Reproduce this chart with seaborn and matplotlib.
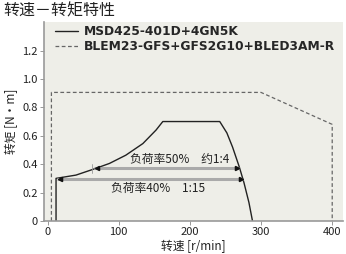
import matplotlib
matplotlib.use("Agg")
import matplotlib.pyplot as plt
import seaborn as sns
import pandas as pd
from matplotlib.lines import Line2D

# ---- data ----
solid_label = "MSD425-401D+4GN5K"
solid_x = [12, 12, 40, 63.6, 87, 110, 134, 152.5, 162, 242, 252, 260, 269.5, 276, 283, 288]
solid_y = [0, 0.30, 0.323, 0.363, 0.405, 0.463, 0.545, 0.64, 0.70, 0.70, 0.62, 0.52, 0.38, 0.27, 0.13, 0]

dashed_label = "BLEM23-GFS+GFS2G10+BLED3AM-R"
dashed_x = [5.5, 5.5, 300, 400, 400]
dashed_y = [0, 0.905, 0.905, 0.68, 0]

arrow50 = [66, 269.5, 0.37]
arrow40 = [14, 275, 0.295]
text50 = "负荷率50%　约1:4"
text40 = "负荷率40%　1:15"

x_ticks = [0, 100, 200, 300, 400]
y_ticks = [0, 0.2, 0.4, 0.6, 0.8, 1.0, 1.2]
y_ticklabels = ["0", "0.2", "0.4", "0.6", "0.8", "1.0", "1.2"]

title = "转速－转矩特性"
xlabel = "转速 [r/min]"
ylabel = "转矩 [N・m]"

sns.set_theme(style="ticks")
plt.rcParams["font.family"] = ["Noto Sans CJK SC", "DejaVu Sans"]

fig = plt.figure(figsize=(3.46, 2.54), dpi=100)
ax = fig.add_axes([0.127, 0.13, 0.864, 0.783])
ax.set_facecolor("#eeeee8")

df_s = pd.DataFrame({"x": solid_x, "y": solid_y})
df_d = pd.DataFrame({"x": dashed_x, "y": dashed_y})
sns.lineplot(data=df_s, x="x", y="y", sort=False, estimator=None, ax=ax,
             color="#222222", lw=1.0)
sns.lineplot(data=df_d, x="x", y="y", sort=False, estimator=None, ax=ax,
             color="#666666", lw=0.9, linestyle=(0, (3, 2)))

for (x0, x1, yy) in (arrow50, arrow40):
    ax.plot([x0, x1], [yy, yy], color="#aaaaaa", lw=2.2, solid_capstyle="butt", zorder=3)
    ax.plot([x0 + 3], [yy], marker="<", color="#111111", ms=3, zorder=4)
    ax.plot([x1 - 3], [yy], marker=">", color="#111111", ms=3, zorder=4)
ax.plot([arrow50[0] - 3] * 2, [arrow50[2] - 0.03, arrow50[2] + 0.03], color="#999999", lw=0.6)

ax.text(185, 0.43, text50, fontsize=8.5, ha="center", va="center", color="#222222")
ax.text(155, 0.23, text40, fontsize=8.5, ha="center", va="center", color="#222222")

ax.set_xlim(-5, 415)
ax.set_ylim(0, 1.4)
ax.set_xticks(x_ticks)
ax.set_yticks(y_ticks)
ax.set_yticklabels(y_ticklabels)
ax.tick_params(labelsize=8, length=3, width=0.6, colors="#888888", labelcolor="#222222", pad=1.5)
for s in ("top", "right"):
    ax.spines[s].set_visible(False)
for s in ("left", "bottom"):
    ax.spines[s].set_color("#999999")
    ax.spines[s].set_linewidth(1.2)

ax.set_xlabel(xlabel, fontsize=8.5, labelpad=2, color="#222222")
ax.set_ylabel(ylabel, fontsize=8.5, labelpad=3, color="#222222")
fig.text(0.01, 0.955, title, fontsize=11.5, ha="left", va="center", color="#222222")

handles = [Line2D([], [], color="#222222", lw=1.0),
           Line2D([], [], color="#666666", lw=0.9, linestyle=(0, (3, 2)))]
leg = ax.legend(handles, [solid_label, dashed_label], loc="upper left",
                bbox_to_anchor=(0.0, 1.04), frameon=False, handlelength=1.9,
                handletextpad=0.5, labelspacing=0.15,
                prop={"family": ["DejaVu Sans"], "weight": "bold", "size": 8.8})

fig.savefig("out.png", dpi=100, facecolor="white")
